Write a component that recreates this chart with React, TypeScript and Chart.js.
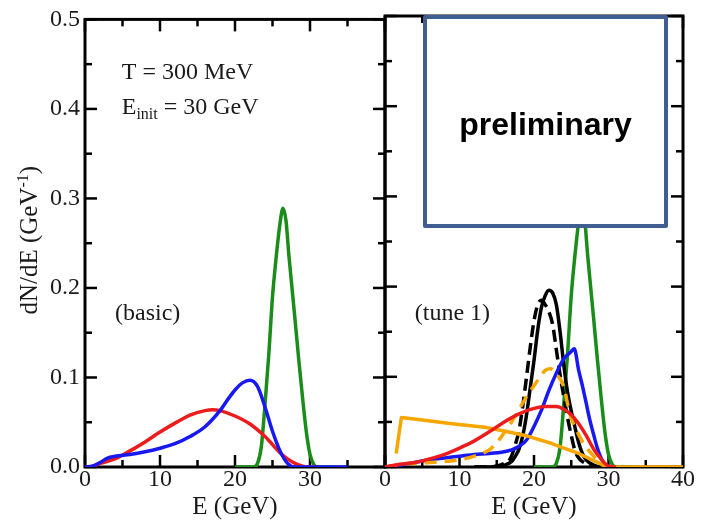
import React, { useEffect, useRef } from 'react';
import { Chart, registerables } from 'chart.js';

Chart.register(...registerables);

// ---------- axis ticks ----------
const xTickValues = [0, 10, 20, 30, 40];
const xMinorTicks = [5, 15, 25, 35];
const yTickValues = [0, 0.1, 0.2, 0.3, 0.4, 0.5];
const yMinorTicks = [0.05, 0.15, 0.25, 0.35, 0.45];

// ---------- left panel (basic) ----------
const basicRedE = [0, 1, 2, 4, 6, 8, 10, 12, 14, 16, 17, 18, 20, 22, 24, 26, 27, 28, 29, 30, 31];
const basicRed = [0, 0.001, 0.004, 0.009, 0.018, 0.028, 0.039, 0.049, 0.058, 0.063, 0.064, 0.063, 0.057, 0.048, 0.034, 0.016, 0.009, 0.004, 0.001, 0, 0];

const basicBlueE = [0, 1, 2, 3, 4, 6, 8, 10, 12, 14, 16, 18, 19, 20, 21, 22, 23, 24, 25, 26, 27, 28, 35];
const basicBlue = [0, 0.001, 0.005, 0.01, 0.012, 0.014, 0.017, 0.021, 0.026, 0.034, 0.045, 0.063, 0.075, 0.086, 0.094, 0.097, 0.09, 0.067, 0.04, 0.018, 0.004, 0, 0];

const greenE = [20, 22.5, 23, 23.5, 24, 24.5, 25, 25.5, 26, 26.4, 26.8, 27.2, 27.6, 28, 28.5, 29, 29.5, 30, 30.5, 31, 33];
const green = [0, 0, 0.004, 0.022, 0.07, 0.125, 0.19, 0.235, 0.272, 0.289, 0.275, 0.235, 0.2, 0.165, 0.12, 0.078, 0.04, 0.014, 0.003, 0, 0];

// ---------- right panel (tune 1) ----------
const tuneRedE = [0, 2, 4, 6, 8, 10, 12, 14, 16, 18, 20, 21.5, 23, 24, 25, 26, 27, 28, 29, 30, 31];
const tuneRed = [0, 0.003, 0.005, 0.009, 0.014, 0.021, 0.029, 0.039, 0.05, 0.059, 0.065, 0.067, 0.067, 0.064, 0.058, 0.048, 0.035, 0.02, 0.009, 0.001, 0];

const tuneBlueE = [0, 2, 4, 6, 8, 10, 12, 14, 16, 17, 18, 19, 20, 21, 22, 23, 24, 25, 25.4, 26, 26.5, 27, 27.5, 28, 28.5, 29, 29.5, 30, 31];
const tuneBlue = [0, 0.002, 0.005, 0.008, 0.01, 0.012, 0.014, 0.015, 0.017, 0.019, 0.023, 0.03, 0.045, 0.063, 0.085, 0.104, 0.12, 0.128, 0.131, 0.107, 0.09, 0.071, 0.052, 0.036, 0.021, 0.01, 0.003, 0, 0];

const blackSolidE = [12, 14, 15, 16, 17, 17.5, 18, 18.5, 19, 19.5, 20, 20.5, 21, 21.5, 22, 22.5, 23, 23.5, 24, 24.5, 25, 25.5, 26, 26.5, 27, 28, 29, 31];
const blackSolid = [0, 0, 0.001, 0.002, 0.006, 0.012, 0.02, 0.035, 0.058, 0.088, 0.118, 0.152, 0.177, 0.19, 0.196, 0.193, 0.18, 0.15, 0.113, 0.083, 0.062, 0.044, 0.027, 0.015, 0.008, 0.002, 0, 0];

const blackDashedE = [12, 14, 15, 16, 16.8, 17.5, 18, 18.5, 19, 19.5, 20, 20.5, 21, 21.5, 22, 22.5, 23, 23.5, 24, 24.5, 25, 25.5, 26, 26.5, 27.5, 28.5];
const blackDashed = [0, 0, 0.001, 0.004, 0.009, 0.025, 0.041, 0.068, 0.1, 0.133, 0.162, 0.18, 0.185, 0.18, 0.172, 0.158, 0.13, 0.102, 0.078, 0.055, 0.035, 0.018, 0.01, 0.006, 0.002, 0];

const orangeDashedE = [0, 1, 2, 4, 6, 8, 10, 12, 13, 14, 15, 16, 17, 18, 19, 20, 21, 21.5, 22.2, 23, 24, 24.8, 25.7, 26.5, 27, 28, 28.6, 29.5, 30];
const orangeDashed = [0, 0.001, 0.003, 0.004, 0.005, 0.006, 0.008, 0.012, 0.015, 0.019, 0.027, 0.038, 0.05, 0.064, 0.078, 0.09, 0.102, 0.107, 0.109, 0.103, 0.089, 0.059, 0.041, 0.028, 0.022, 0.012, 0.007, 0.001, 0];

const orangeSolidE = [1.5, 2.2, 5, 9, 13.4, 16, 18.8, 22.4, 24, 26, 28, 29.3, 30, 40];
const orangeSolid = [0.015, 0.055, 0.052, 0.048, 0.044, 0.04, 0.035, 0.026, 0.021, 0.015, 0.007, 0.002, 0, 0];

// ---------- styles ----------
const SERIF = '"Liberation Serif", "Times New Roman", serif';
const TEXT = '#1a1a1a';
const RED = '#ec1c1c';
const BLUE = '#1818f2';
const GREEN = '#1a8c1a';
const ORANGE = '#f7a600';
const BLACK = '#000000';

function pts(xs: number[], ys: number[]) {
  return xs.map((x, i) => ({ x, y: ys[i] }));
}

function series(label: string, xs: number[], ys: number[], color: string, dash: number[] = [], smooth = true) {
  return {
    label,
    data: pts(xs, ys),
    borderColor: color,
    backgroundColor: color,
    borderWidth: 3.5,
    borderDash: dash,
    pointRadius: 0,
    fill: false,
    tension: 0,
    cubicInterpolationMode: smooth ? 'monotone' : 'default',
    borderCapStyle: 'butt',
    borderJoinStyle: 'round',
  } as any;
}

function xScale(showLast: boolean) {
  return {
    type: 'linear',
    min: 0,
    max: 40,
    afterBuildTicks: (s: any) => {
      s.ticks = xTickValues.map((v) => ({ value: v }));
    },
    grid: { display: false, drawTicks: false },
    border: { display: false },
    ticks: {
      font: { family: SERIF, size: 24 },
      color: TEXT,
      padding: -2,
      maxRotation: 0,
      autoSkip: false,
      callback: (v: any) => (!showLast && Number(v) === 40 ? '' : String(v)),
    },
    title: {
      display: true,
      text: 'E (GeV)',
      font: { family: SERIF, size: 25 },
      color: TEXT,
      padding: { top: 0, bottom: 3 },
    },
    afterFit: (s: any) => {
      s.height = 58;
    },
  } as any;
}

const frameTicks = {
  id: 'frameTicks',
  beforeDatasetsDraw(chart: any) {
    const { ctx, chartArea, scales } = chart;
    const { left, right, top, bottom } = chartArea;
    const x = scales.x;
    const y = scales.y;
    ctx.save();
    ctx.strokeStyle = '#000';
    ctx.lineWidth = 3;
    ctx.strokeRect(left, top, right - left, bottom - top);
    ctx.lineWidth = 2.5;
    const seg = (x1: number, y1: number, x2: number, y2: number) => {
      ctx.beginPath();
      ctx.moveTo(x1, y1);
      ctx.lineTo(x2, y2);
      ctx.stroke();
    };
    const xt = [
      ...xTickValues.map((v) => [v, 12]),
      ...xMinorTicks.map((v) => [v, 7]),
    ];
    xt.forEach(([v, len]) => {
      const px = x.getPixelForValue(v);
      seg(px, bottom, px, bottom - len);
      seg(px, top, px, top + len);
    });
    const yt = [
      ...yTickValues.map((v) => [v, 12]),
      ...yMinorTicks.map((v) => [v, 7]),
    ];
    yt.forEach(([v, len]) => {
      const py = y.getPixelForValue(v);
      seg(left, py, left + len, py);
      seg(right, py, right - len, py);
    });
    ctx.restore();
  },
};

const leftText = {
  id: 'leftText',
  afterDraw(chart: any) {
    const { ctx, scales, chartArea } = chart;
    const x = scales.x;
    const y = scales.y;
    ctx.save();
    ctx.fillStyle = TEXT;
    ctx.textBaseline = 'alphabetic';
    ctx.textAlign = 'left';
    const big = `24px ${SERIF}`;
    const small = `16px ${SERIF}`;
    // T = 300 MeV
    ctx.font = big;
    ctx.fillText('T = 300 MeV', x.getPixelForValue(4.9), y.getPixelForValue(0.433));
    // E_init = 30 GeV
    let px = x.getPixelForValue(4.9);
    const py = y.getPixelForValue(0.394);
    ctx.font = big;
    ctx.fillText('E', px, py);
    px += ctx.measureText('E').width;
    ctx.font = small;
    ctx.fillText('init', px, py + 5);
    px += ctx.measureText('init').width;
    ctx.font = big;
    ctx.fillText(' = 30 GeV', px, py);
    // (basic)
    ctx.fillText('(basic)', x.getPixelForValue(4.0), y.getPixelForValue(0.164));
    // y-axis title with superscript
    const cy = (chartArea.top + chartArea.bottom) / 2 - 3;
    ctx.translate(37, cy);
    ctx.rotate(-Math.PI / 2);
    const part1 = 'dN/dE (GeV';
    const sup = '-1';
    const part3 = ')';
    ctx.font = `25px ${SERIF}`;
    const w1 = ctx.measureText(part1).width;
    const w3 = ctx.measureText(part3).width;
    ctx.font = `16px ${SERIF}`;
    const w2 = ctx.measureText(sup).width;
    let tx = -(w1 + w2 + w3) / 2;
    ctx.font = `25px ${SERIF}`;
    ctx.fillText(part1, tx, 0);
    tx += w1;
    ctx.font = `16px ${SERIF}`;
    ctx.fillText(sup, tx, -9);
    tx += w2;
    ctx.font = `25px ${SERIF}`;
    ctx.fillText(part3, tx, 0);
    ctx.restore();
  },
};

const rightText = {
  id: 'rightText',
  afterDraw(chart: any) {
    const { ctx, scales, chartArea } = chart;
    const x = scales.x;
    const y = scales.y;
    ctx.save();
    ctx.fillStyle = TEXT;
    ctx.textBaseline = 'alphabetic';
    ctx.textAlign = 'left';
    ctx.font = `24px ${SERIF}`;
    ctx.fillText('(tune 1)', x.getPixelForValue(4.0), y.getPixelForValue(0.163));
    // "preliminary" overlay box
    const bx = chartArea.left + 40;
    const by = chartArea.top + 1;
    const bw = 241;
    const bh = 209;
    ctx.fillStyle = '#ffffff';
    ctx.fillRect(bx, by, bw, bh);
    ctx.strokeStyle = '#3e5f8f';
    ctx.lineWidth = 4;
    ctx.lineJoin = 'round';
    ctx.strokeRect(bx, by, bw, bh);
    ctx.fillStyle = '#000';
    ctx.font = `bold 32px "Liberation Sans", Arial, sans-serif`;
    ctx.textAlign = 'center';
    ctx.fillText('preliminary', bx + bw / 2, by + 118);
    ctx.restore();
  },
};

export default function App() {
  const leftRef = useRef<HTMLCanvasElement>(null);
  const rightRef = useRef<HTMLCanvasElement>(null);

  useEffect(() => {
    const common = {
      responsive: false,
      animation: false,
      plugins: { legend: { display: false }, tooltip: { enabled: false } },
      elements: { point: { radius: 0 } },
    };

    const c1 = new Chart(leftRef.current as HTMLCanvasElement, {
      type: 'line',
      data: {
        datasets: [
          series('blue', basicBlueE, basicBlue, BLUE),
          series('red', basicRedE, basicRed, RED),
          series('green', greenE, green, GREEN),
        ],
      },
      options: {
        ...common,
        layout: { padding: { top: 16, right: 15, left: 0, bottom: 0 } },
        scales: {
          x: xScale(false),
          y: {
            type: 'linear',
            min: 0,
            max: 0.5,
            afterBuildTicks: (s: any) => {
              s.ticks = yTickValues.map((v) => ({ value: v }));
            },
            grid: { display: false, drawTicks: false },
            border: { display: false },
            ticks: {
              font: { family: SERIF, size: 24 },
              color: TEXT,
              padding: 5,
              callback: (v: any) => Number(v).toFixed(1),
            },
            title: { display: false },
            afterFit: (s: any) => {
              s.width = 85;
            },
          },
        },
      } as any,
      plugins: [frameTicks, leftText],
    } as any);

    const c2 = new Chart(rightRef.current as HTMLCanvasElement, {
      type: 'line',
      data: {
        datasets: [
          series('red', tuneRedE, tuneRed, RED),
          series('orange solid', orangeSolidE, orangeSolid, ORANGE, [], false),
          series('orange dashed', orangeDashedE, orangeDashed, ORANGE, [12, 8]),
          series('blue', tuneBlueE, tuneBlue, BLUE),
          series('black dashed', blackDashedE, blackDashed, BLACK, [12, 6]),
          series('black', blackSolidE, blackSolid, BLACK),
          series('green', greenE, green, GREEN),
        ],
      },
      options: {
        ...common,
        layout: { padding: { top: 16, right: 18, left: 15, bottom: 0 } },
        scales: {
          x: xScale(true),
          y: { type: 'linear', display: false, min: 0, max: 0.5 },
        },
      } as any,
      plugins: [frameTicks, rightText],
    } as any);

    return () => {
      c1.destroy();
      c2.destroy();
    };
  }, []);

  return (
    <div style={{ position: 'absolute', left: 0, top: 0, width: 701, height: 525, background: '#ffffff' }}>
      <canvas
        ref={leftRef}
        width={400}
        height={525}
        style={{ position: 'absolute', left: 0, top: 0, width: 400, height: 525 }}
      />
      <canvas
        ref={rightRef}
        width={331}
        height={525}
        style={{ position: 'absolute', left: 370, top: 0, width: 331, height: 525 }}
      />
    </div>
  );
}
